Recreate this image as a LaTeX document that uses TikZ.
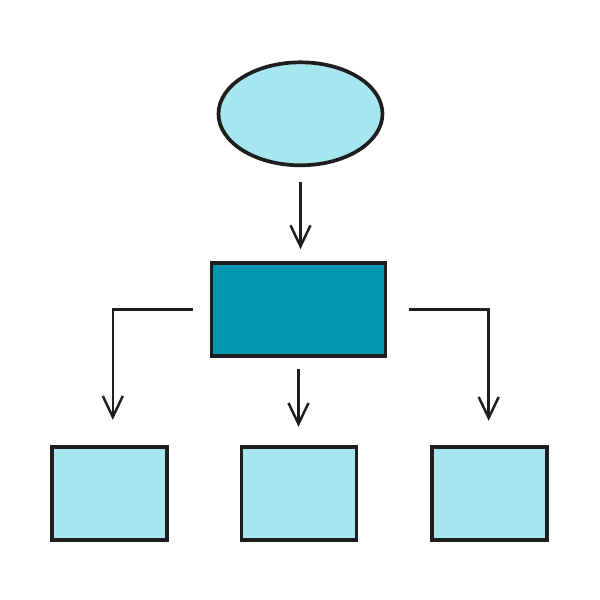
\documentclass[tikz,border=0pt]{standalone}
\usepackage{xcolor}
\usepackage{tikz}
\usetikzlibrary{positioning, shapes, shapes.geometric, arrows.meta, calc}

\definecolor{lightcyan}{HTML}{A6E6EF}
\definecolor{darkcyan}{HTML}{0396B1}
\definecolor{ink}{HTML}{1E1E1E}

\begin{document}
\begin{tikzpicture}[
node distance = 1.74cm and 1.42cm,
    box/.style = {rectangle, draw=ink, line width=2.1pt,
        fill=#1, minimum height=1.86cm, minimum width=2.3cm},
    startnode/.style = {ellipse, draw=ink, line width=2.1pt, fill=lightcyan,
        minimum width=3.28cm, minimum height=2.06cm},
    procnode/.style = {box=darkcyan, minimum width=3.48cm},
    msg/.style = {draw=ink, line width=1.4pt,
        -{Straight Barb[length=0.42cm, width=0.4cm]}},
]
\useasboundingbox (-5.97,-5.81) rectangle (6.03,6.19);

\node[procnode] (proc) {};
\node[startnode, above=1.88cm of proc, xshift=0.04cm] (start) {};
\node[box=lightcyan, below=of proc, xshift=0.01cm] (midbox) {};
\node[box=lightcyan, left=of midbox] (leftbox) {};
\node[box=lightcyan, right=of midbox, xshift=0.02cm] (rightbox) {};

\draw[msg, shorten <=0.3cm, shorten >=0.24cm] (start.south) -- (start.south |- proc.north);

\draw[msg, shorten <=0.22cm, shorten >=0.36cm] (proc.south) -- (proc.south |- midbox.north);

\draw[msg, shorten <=0.34cm, shorten >=0.5cm] (proc.west) -| ($(leftbox.north)+(0.07,0)$);
\draw[msg, shorten <=0.44cm, shorten >=0.48cm] (proc.east) -| ($(rightbox.north)+(-0.02,0)$);

\end{tikzpicture}
\end{document}
